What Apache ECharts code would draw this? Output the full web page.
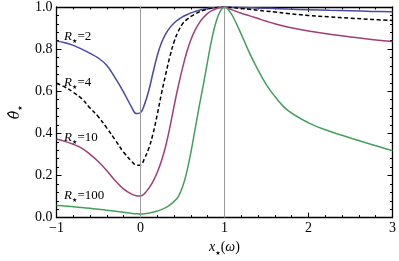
<!DOCTYPE html>
<html><head><meta charset="utf-8">
<script src="https://cdn.jsdelivr.net/npm/echarts@6/dist/echarts.min.js"></script>
<style>html,body{margin:0;padding:0;background:#fff}#c{width:399px;height:261px}</style>
</head><body><div id="c"></div>
<script>
var xs = [-1,-0.9,-0.8,-0.7,-0.6,-0.5,-0.4,-0.3,-0.2,-0.1,-0.05,0,0.05,0.1,0.15,0.2,0.25,0.3,0.35,0.4,0.45,0.5,0.55,0.6,0.65,0.7,0.75,0.8,0.85,0.9,0.95,1,1.05,1.1,1.2,1.3,1.4,1.5,1.6,1.75,2,2.25,2.5,2.75,3];
var r2 = [0.838,0.830,0.818,0.800,0.780,0.757,0.722,0.662,0.595,0.520,0.494,0.498,0.540,0.605,0.690,0.770,0.830,0.872,0.902,0.924,0.940,0.953,0.963,0.972,0.979,0.985,0.989,0.993,0.996,0.998,0.999,1,0.9995,0.999,0.998,0.997,0.995,0.994,0.993,0.990,0.987,0.984,0.982,0.979,0.977];
var r4 = [0.638,0.620,0.595,0.565,0.520,0.478,0.425,0.368,0.310,0.265,0.249,0.250,0.283,0.330,0.400,0.490,0.590,0.680,0.765,0.835,0.885,0.920,0.940,0.955,0.967,0.977,0.984,0.990,0.994,0.997,0.999,1,0.999,0.997,0.993,0.989,0.984,0.980,0.976,0.969,0.960,0.953,0.947,0.941,0.936];
var r10 = [0.373,0.362,0.348,0.330,0.300,0.265,0.222,0.175,0.135,0.110,0.104,0.103,0.115,0.140,0.172,0.215,0.270,0.340,0.430,0.530,0.625,0.710,0.785,0.845,0.890,0.925,0.950,0.970,0.983,0.992,0.998,1,0.993,0.985,0.970,0.958,0.945,0.932,0.920,0.905,0.886,0.871,0.858,0.846,0.836];
var r100 = [0.058,0.055,0.052,0.048,0.044,0.040,0.035,0.030,0.025,0.020,0.018,0.017,0.018,0.021,0.025,0.031,0.038,0.047,0.060,0.077,0.100,0.145,0.215,0.310,0.420,0.530,0.635,0.745,0.850,0.930,0.980,1,0.985,0.955,0.870,0.780,0.700,0.630,0.575,0.510,0.450,0.410,0.378,0.347,0.318];
var curveNames = ['2','4','10','100'];
var labelPos = [[-0.91,0.858],[-0.91,0.642],[-0.91,0.382],[-0.91,0.103]];
var vLines = [0,1];

function pairs(ys){ return xs.map(function(x,i){ return [x, ys[i]]; }); }
var serif = '"Liberation Serif","DejaVu Serif",serif';
var starFont = '"DejaVu Sans",sans-serif';
var colors = ['#4848a8','#000000','#a03f76','#42a05c'];
var data = [r2, r4, r10, r100];

function richSet(size){
  return {
    i:{fontFamily:serif, fontStyle:'italic', fontSize:size, lineHeight:size+3, color:'#000'},
    s:{fontFamily:starFont, fontSize:6, lineHeight:size+3, verticalAlign:'bottom', color:'#000'},
    n:{fontFamily:serif, fontSize:size, lineHeight:size+3, color:'#000'},
    h:{fontFamily:'"DejaVu Serif",serif', fontStyle:'italic', fontSize:size, lineHeight:size+3, color:'#000'}
  };
}

var series = data.map(function(ys, k){
  return {
    type:'line', data: pairs(ys), showSymbol:false, smooth:0.4, z:3,
    lineStyle:{color:colors[k], width:1.5, type: k===1 ? [4,2.5] : 'solid'},
    markPoint:{
      symbol:'circle', symbolSize:0, silent:true,
      label:{show:true, position:'right', distance:0, color:'#000',
        formatter:'{i|R}{s|★}{n|=' + curveNames[k] + '}',
        rich: richSet(13)},
      data:[{coord: labelPos[k]}]
    }
  };
});
series.unshift({
  type:'line', data:[], z:1,
  markLine:{silent:true, symbol:'none', label:{show:false},
    lineStyle:{color:'#9a9a9a', type:'solid', width:1},
    data: vLines.map(function(v){ return {xAxis:v}; })}
});

function ax(extra){
  var base = {
    axisLine:{show:true, onZero:false, lineStyle:{color:'#000', width:1.3}},
    axisTick:{show:true, inside:true, length:5, lineStyle:{color:'#000', width:1}},
    minorTick:{show:true, splitNumber:5, length:2.5, lineStyle:{color:'#000', width:1}},
    splitLine:{show:false}
  };
  return Object.assign(base, extra);
}

var option = {
  animation:false,
  grid:{left:43, right:3.5, top:7, bottom:34},
  xAxis:[
    ax({type:'value', min:-1, max:3, interval:1, position:'bottom',
      axisLabel:{fontFamily:serif, fontSize:14, color:'#000', margin:4,
        formatter:function(v){ return v<0 ? '\u2212' + Math.abs(v) : String(v); }},
      name:'{i|x}{s|★}{n|(}{i|ω}{n|)}', nameLocation:'middle', nameGap:21,
      nameTextStyle:{rich: richSet(14)}}),
    ax({type:'value', min:-1, max:3, interval:1, position:'top', axisLabel:{show:false}})
  ],
  yAxis:[
    ax({type:'value', min:0, max:1, interval:0.2, position:'left',
      axisLabel:{fontFamily:serif, fontSize:14, color:'#000', margin:4,
        formatter:function(v){ return v.toFixed(1); }},
      name:'{h|θ\u0302}{s|★}', nameLocation:'middle', nameGap:33, nameRotate:90,
      nameTextStyle:{rich: richSet(14)}}),
    ax({type:'value', min:0, max:1, interval:0.2, position:'right', axisLabel:{show:false}})
  ],
  series: series
};
var chart = echarts.init(document.getElementById('c'), null, {renderer:'canvas'});
chart.setOption(option);
</script></body></html>
